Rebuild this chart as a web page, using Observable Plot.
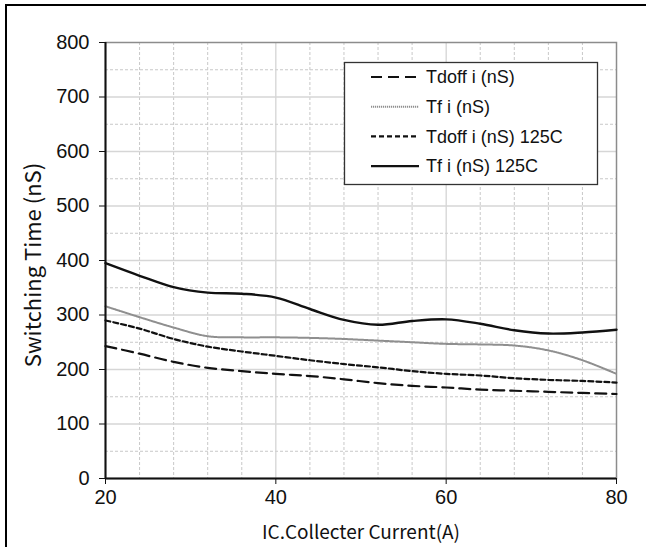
<!DOCTYPE html>
<html>
<head>
<meta charset="utf-8">
<script src="https://cdn.jsdelivr.net/npm/d3@7"></script>
<script src="https://cdn.jsdelivr.net/npm/@observablehq/plot@0.6"></script>
<style>
  html, body { margin: 0; padding: 0; background: #fff; }
  #wrap { position: relative; width: 646px; height: 547px; overflow: hidden; }
  #frameL { position: absolute; left: 5px; top: 4px; width: 2px; height: 560px; background: #000; }
  #frameT { position: absolute; left: 5px; top: 4px; width: 700px; height: 2px; background: #000; }
  .ttl { position: absolute; font-family: "Noto Sans CJK KR", "Noto Sans", sans-serif; color: #111; white-space: nowrap; }
</style>
</head>
<body>
<div id="wrap">
  <div id="frameL"></div>
  <div id="frameT"></div>
</div>
<script>
// ---- data ----
const current = [20, 24, 28, 32, 36, 40, 44, 48, 52, 56, 60, 64, 68, 72, 76, 80];
const tdoff    = [243, 229, 214, 203, 197, 192, 188, 182, 175, 170, 167, 163, 161, 159, 157, 155];
const tf       = [316, 296, 277, 261, 259, 259, 258, 256, 253, 250, 247, 246, 244, 235, 217, 192];
const tdoff125 = [290, 275, 256, 242, 233, 225, 217, 210, 204, 197, 192, 189, 184, 181, 179, 176];
const tf125    = [395, 372, 351, 341, 339, 332, 311, 291, 282, 289, 292, 284, 272, 266, 268, 273];
const seriesNames = ["Tdoff i (nS)", "Tf i (nS)", "Tdoff i (nS) 125C", "Tf i (nS) 125C"];
const xTicks = [20, 40, 60, 80];
const yTicks = [0, 100, 200, 300, 400, 500, 600, 700, 800];
const xLabel = "IC.Collecter Current(A)";
const yLabel = "Switching Time (nS)";

// ---- styles ----
const styles = [
  {stroke: "#111", strokeWidth: 2.2, dash: "11,6"},
  {stroke: "#8f8f8f", strokeWidth: 2, dash: "1.2,0.8"},
  {stroke: "#111", strokeWidth: 2.2, dash: "5,3"},
  {stroke: "#111", strokeWidth: 2.4, dash: null}
];
const allValues = [tdoff, tf, tdoff125, tf125];

const rows = [];
allValues.forEach((vals, si) => vals.forEach((v, i) => rows.push({series: seriesNames[si], x: current[i], y: v})));

const minorX = d3.range(24, 80, 4).filter(v => v % 20 !== 0);
const majorX = [40, 60];
const minorY = d3.range(50, 800, 100);
const majorY = [100, 200, 300, 400, 500, 600, 700];

const lineMarks = seriesNames.map((name, si) => Plot.line(rows.filter(r => r.series === name), {
  x: "x", y: "y", curve: "catmull-rom",
  stroke: styles[si].stroke, strokeWidth: styles[si].strokeWidth,
  strokeDasharray: styles[si].dash || undefined
}));

const chart = Plot.plot({
  width: 646,
  height: 547,
  marginLeft: 105,
  marginRight: 30,
  marginTop: 42,
  marginBottom: 69,
  style: {fontFamily: "'Liberation Sans', Arial, sans-serif", background: "transparent", overflow: "visible"},
  x: {domain: [20, 80]},
  y: {domain: [0, 800]},
  marks: [
    Plot.gridX(minorX, {stroke: "#c8c8c8", strokeOpacity: 1, strokeDasharray: "3,2"}),
    Plot.gridY(minorY, {stroke: "#c8c8c8", strokeOpacity: 1, strokeDasharray: "3,2"}),
    Plot.gridX(majorX, {stroke: "#d0d0d0", strokeOpacity: 1, strokeWidth: 1.2}),
    Plot.gridY(majorY, {stroke: "#d6d6d6", strokeOpacity: 1, strokeWidth: 1.6}),
    Plot.frame({stroke: "#8c8c8c", strokeWidth: 1.5}),
    ...lineMarks,
    Plot.ruleX([20], {stroke: "#111", strokeWidth: 2}),
    Plot.ruleY([0], {stroke: "#111", strokeWidth: 2}),
    Plot.axisX({ticks: xTicks, tickSize: 6, tickPadding: 5, fontSize: 20, label: null, stroke: "#111", fill: "#111", tickFormat: d => String(d)}),
    Plot.axisY({ticks: yTicks, tickSize: 6, tickPadding: 10, fontSize: 20, label: null, stroke: "#111", fill: "#111", tickFormat: d => String(d)})
  ]
});
chart.style.position = "absolute";
chart.style.left = "0px";
chart.style.top = "0px";
const wrap = document.getElementById("wrap");
wrap.appendChild(chart);

// axis titles
const xt = document.createElement("div");
xt.className = "ttl";
xt.textContent = xLabel;
xt.style.fontSize = "19px";
xt.style.left = "361px"; xt.style.top = "530px";
xt.style.transform = "translate(-50%, -50%)";
wrap.appendChild(xt);

const yt = document.createElement("div");
yt.className = "ttl";
yt.textContent = yLabel;
yt.style.fontSize = "22px";
yt.style.left = "31px"; yt.style.top = "265px";
yt.style.transform = "translate(-50%, -50%) rotate(-90deg)";
wrap.appendChild(yt);

// legend
const lg = d3.select(wrap).append("svg")
  .attr("width", 646).attr("height", 547)
  .style("position", "absolute").style("left", "0px").style("top", "0px");
lg.append("rect").attr("x", 344.5).attr("y", 62.5).attr("width", 253).attr("height", 122)
  .attr("fill", "#fff").attr("stroke", "#333").attr("stroke-width", 1.3);
seriesNames.forEach((name, i) => {
  const cy = 77 + i * 29.7;
  lg.append("line").attr("x1", 371).attr("x2", 419).attr("y1", cy).attr("y2", cy)
    .attr("stroke", styles[i].stroke).attr("stroke-width", styles[i].strokeWidth)
    .attr("stroke-dasharray", styles[i].dash);
  lg.append("text").attr("x", 426).attr("y", cy).attr("dy", "0.35em")
    .attr("font-family", "'Liberation Sans', Arial, sans-serif").attr("font-size", 18)
    .attr("fill", "#111").text(name);
});
</script>
</body>
</html>
